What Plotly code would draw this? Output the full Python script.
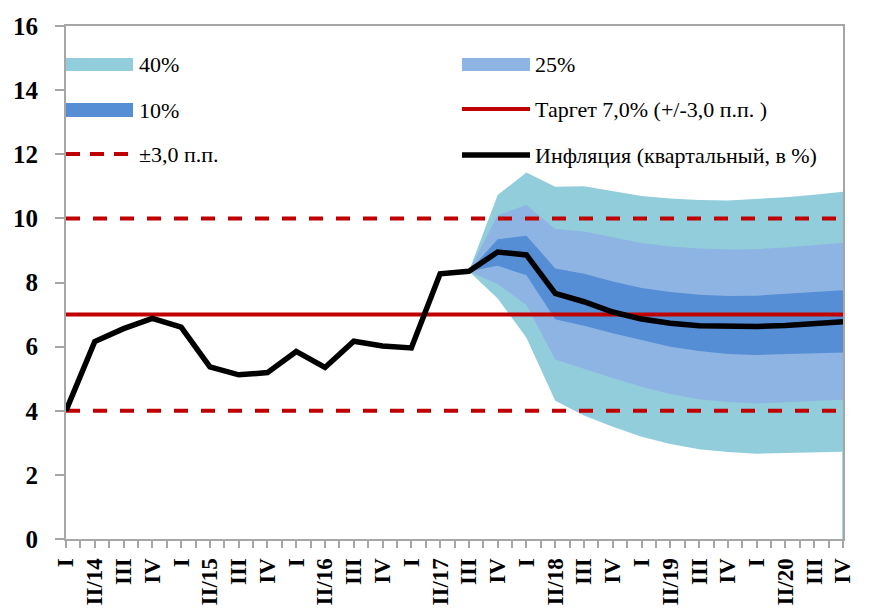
import plotly.graph_objects as go

# ---------------- data ----------------
quarters = ["I", "II/14", "III", "IV", "I", "II/15", "III", "IV", "I", "II/16", "III", "IV",
            "I", "II/17", "III", "IV", "I", "II/18", "III", "IV", "I", "II/19", "III", "IV",
            "I", "II/20", "III", "IV"]
inflation = [4.0, 6.16, 6.56, 6.88, 6.61, 5.37, 5.12, 5.19, 5.85, 5.35, 6.17, 6.02,
             5.96, 8.27, 8.35, 8.95, 8.86, 7.66, 7.40, 7.08, 6.86, 6.73, 6.65, 6.62,
             6.63, 6.66, 6.70, 6.78]
fan_start = 14  # III/17
upper_40 = [8.35, 10.73, 11.43, 10.99, 11.00, 10.85, 10.70, 10.62, 10.57, 10.56, 10.60, 10.66, 10.74, 10.83]
upper_25 = [8.35, 10.10, 10.42, 9.67, 9.59, 9.40, 9.23, 9.12, 9.06, 9.03, 9.04, 9.09, 9.16, 9.24]
upper_10 = [8.35, 9.35, 9.46, 8.44, 8.27, 8.03, 7.83, 7.70, 7.62, 7.58, 7.59, 7.64, 7.70, 7.76]
lower_10 = [8.35, 8.52, 8.23, 6.85, 6.65, 6.42, 6.20, 6.00, 5.86, 5.77, 5.74, 5.76, 5.79, 5.82]
lower_25 = [8.35, 7.95, 7.30, 5.60, 5.30, 5.02, 4.75, 4.52, 4.36, 4.27, 4.23, 4.26, 4.30, 4.34]
lower_40 = [8.35, 7.50, 6.28, 4.31, 3.85, 3.50, 3.19, 2.96, 2.80, 2.71, 2.66, 2.67, 2.70, 2.72]
target = 7.0
tolerance = 3.0

legend_labels = ["40%", "25%", "10%", "Таргет 7,0% (+/-3,0 п.п. )", "±3,0 п.п.",
                 "Инфляция (квартальный, в %)"]

# ---------------- styles ----------------
C40, C25, C10 = "#92CDDC", "#8DB4E2", "#558ED5"
RED = "#C00000"
GRAY = "#A6A6A6"
SERIF = "Liberation Serif"

x_all = list(range(len(quarters)))
x_fan = x_all[fan_start:]

fig = go.Figure()

def band(up, lo, color):
    fig.add_trace(go.Scatter(x=x_fan + x_fan[::-1], y=up + lo[::-1], fill="toself",
                             fillcolor=color, line=dict(width=0), mode="lines",
                             hoverinfo="skip"))

band(upper_40, lower_40, C40)
band(upper_25, lower_25, C25)
band(upper_10, lower_10, C10)

# thin edge of the fan at the right border
fig.add_trace(go.Scatter(x=[x_fan[-1], x_fan[-1]], y=[0, lower_40[-1]], mode="lines",
                         line=dict(color=C40, width=1.5), hoverinfo="skip"))

for lvl in (target + tolerance, target - tolerance):
    fig.add_trace(go.Scatter(x=x_all, y=[lvl] * len(x_all), mode="lines",
                             line=dict(color=RED, width=4, dash="14px,13px")))
fig.add_trace(go.Scatter(x=x_all, y=[target] * len(x_all), mode="lines",
                         line=dict(color=RED, width=4)))
fig.add_trace(go.Scatter(x=x_all, y=inflation, mode="lines",
                         line=dict(color="black", width=5.5)))

# ---------------- layout (page has an 8px body offset) ----------------
OFF = 8
W, H = 870, 610
L, R, T, B = 66, 843, 26, 539   # target plot-area edges on screen

def px(xp):
    return (xp - L) / (R - L)
def py(yp):
    return (B - yp) / (B - T)

shapes = []
annots = []
def leg_rect(x0, x1, y0, y1, color):
    shapes.append(dict(type="rect", xref="paper", yref="paper", x0=px(x0), x1=px(x1),
                       y0=py(y1), y1=py(y0), fillcolor=color, line=dict(width=0)))
def leg_line(x0, x1, y, color, width, dash=None):
    shapes.append(dict(type="line", xref="paper", yref="paper", x0=px(x0), x1=px(x1),
                       y0=py(y), y1=py(y), line=dict(color=color, width=width, dash=dash)))
def leg_text(x, y, text):
    annots.append(dict(xref="paper", yref="paper", x=px(x), y=py(y), text=text,
                       showarrow=False, xanchor="left", yanchor="middle",
                       font=dict(family=SERIF, size=22, color="black")))

leg_rect(66, 133, 58, 71, C40)
leg_text(137, 64, legend_labels[0])
leg_rect(462, 530, 58, 71, C25)
leg_text(533, 64, legend_labels[1])
leg_rect(66, 133, 103, 117, C10)
leg_text(137, 110, legend_labels[2])
leg_line(462, 530, 109, RED, 4)
leg_text(533, 109, legend_labels[3])
leg_line(66, 133, 154, RED, 4, "14px,10px")
leg_text(137, 154, legend_labels[4])
leg_line(462, 530, 155, "black", 5.5)
leg_text(533, 155, legend_labels[5])

fig.update_layout(
    width=W, height=H,
    margin=dict(l=L - OFF, r=W - (R - OFF), t=T - OFF, b=H - (B - OFF)),
    plot_bgcolor="white", paper_bgcolor="white",
    showlegend=False,
    shapes=shapes, annotations=annots,
    xaxis=dict(range=[0, len(quarters) - 1], tickmode="array", tickvals=x_all,
               ticktext=quarters, tickangle=-90,
               tickfont=dict(family=SERIF, size=23, color="black", weight="bold"),
               ticks="outside", ticklen=7, tickcolor=GRAY, tickwidth=1.5,
               minor=dict(tickvals=[i + 0.5 for i in x_all[:-1]], ticks="outside",
                          ticklen=7, tickcolor=GRAY, tickwidth=1.5),
               showline=True, linecolor=GRAY, linewidth=2, mirror=True,
               showgrid=False, zeroline=False, automargin=False,
               ticklabelstandoff=1, layer="below traces"),
    yaxis=dict(range=[0, 16], dtick=2, tick0=0,
               tickfont=dict(family=SERIF, size=25, color="black", weight="bold"),
               ticks="outside", ticklen=9, tickcolor=GRAY, tickwidth=1.5,
               showline=True, linecolor=GRAY, linewidth=2, mirror=True,
               showgrid=False, zeroline=False, automargin=False,
               ticklabelstandoff=12, layer="below traces"),
)

fig.write_html("out.html")
